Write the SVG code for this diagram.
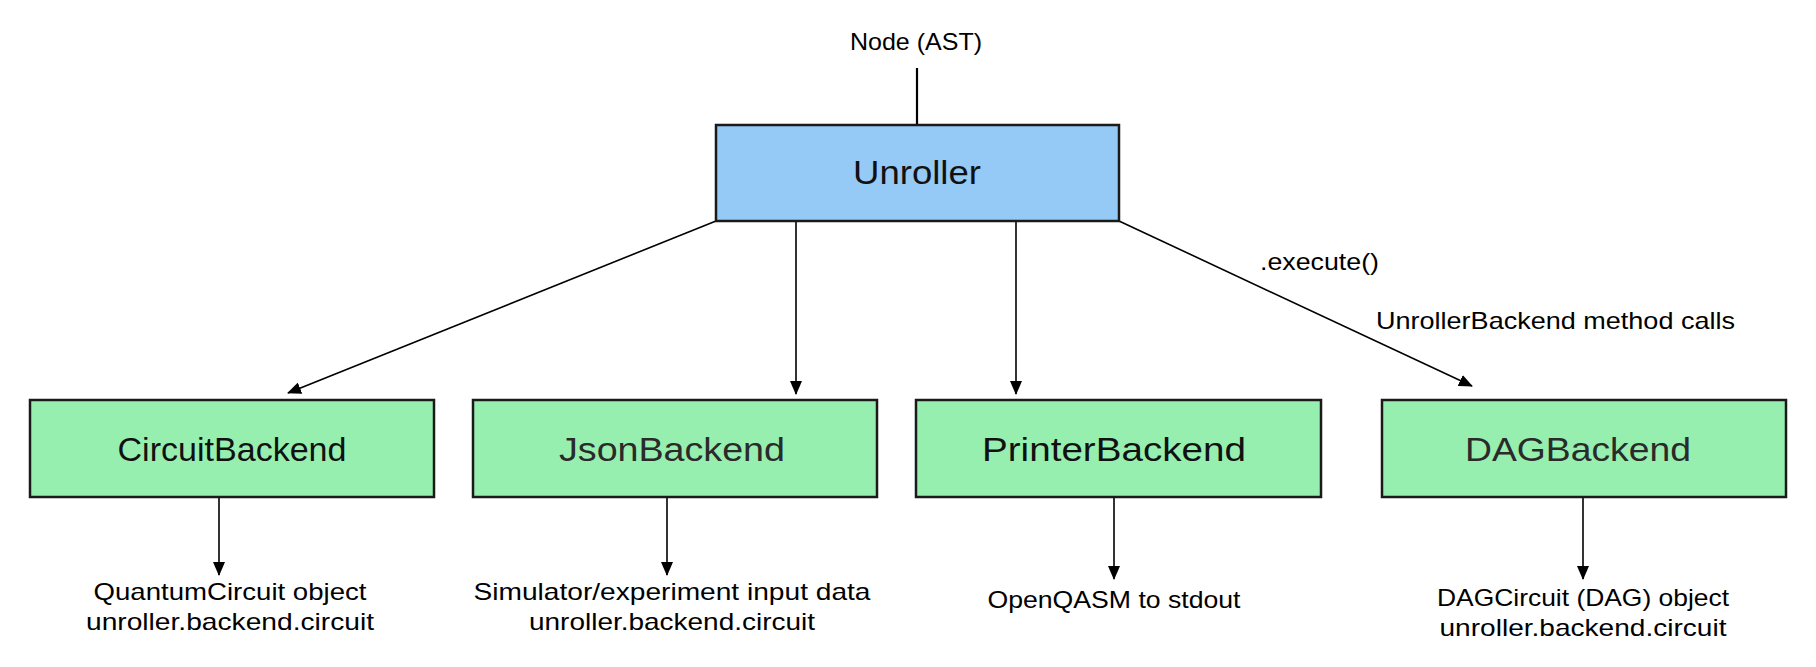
<svg xmlns="http://www.w3.org/2000/svg" width="1816" height="667" viewBox="0 0 1816 667">
<defs>
<style>
.box{stroke:#1a1a1a;stroke-width:2.5}
.blue{fill:#95C9F6}
.green{fill:#97EFAF}
.big{font-family:"Liberation Sans",Arial,sans-serif;font-size:34px;fill:#111;text-anchor:middle}
.light{fill:#2a2a2a}
.lbl{font-family:"Liberation Sans",Arial,sans-serif;font-size:24px;fill:#000;text-anchor:middle}
.lbls{font-family:"Liberation Sans",Arial,sans-serif;font-size:24px;fill:#000}
.con{stroke:#000;stroke-width:1.6;fill:none}
</style>
<marker id="ah" markerUnits="userSpaceOnUse" markerWidth="14" markerHeight="12" refX="13" refY="6" orient="auto">
<path d="M0,0 L14,6 L0,12 Z" fill="#000"/>
</marker>
</defs>
<rect width="1816" height="667" fill="#fff"/>
<g id="connectors">
<line class="con" x1="917" y1="68" x2="917" y2="125" style="stroke-width:2.2"/>
<line class="con" x1="716" y1="221" x2="288" y2="393" marker-end="url(#ah)"/>
<line class="con" x1="796" y1="222" x2="796" y2="394" marker-end="url(#ah)"/>
<line class="con" x1="1016" y1="222" x2="1016" y2="394" marker-end="url(#ah)"/>
<line class="con" x1="1119" y1="221" x2="1472" y2="386" marker-end="url(#ah)"/>
<line class="con" x1="219" y1="498" x2="219" y2="575" marker-end="url(#ah)"/>
<line class="con" x1="667" y1="498" x2="667" y2="575" marker-end="url(#ah)"/>
<line class="con" x1="1114" y1="498" x2="1114" y2="579" marker-end="url(#ah)"/>
<line class="con" x1="1583" y1="498" x2="1583" y2="579" marker-end="url(#ah)"/>
</g>
<g id="edge-labels">
<text class="lbls" x="1260" y="270" textLength="119" lengthAdjust="spacingAndGlyphs">.execute()</text>
<text class="lbls" x="1376" y="329" textLength="359" lengthAdjust="spacingAndGlyphs">UnrollerBackend method calls</text>
</g>
<g id="node-ast">
<text class="lbl" x="916" y="50" textLength="132" lengthAdjust="spacingAndGlyphs">Node (AST)</text>
</g>
<g id="unroller">
<rect class="box blue" x="716" y="125" width="403" height="96"/>
<text class="big" x="917" y="184" font-size="35" textLength="128" lengthAdjust="spacingAndGlyphs">Unroller</text>
</g>
<g id="circuit-backend">
<rect class="box green" x="30" y="400" width="404" height="97"/>
<text class="big" x="232" y="461" textLength="229" lengthAdjust="spacingAndGlyphs">CircuitBackend</text>
</g>
<g id="json-backend">
<rect class="box green" x="473" y="400" width="404" height="97"/>
<text class="big light" x="672" y="461" textLength="226" lengthAdjust="spacingAndGlyphs">JsonBackend</text>
</g>
<g id="printer-backend">
<rect class="box green" x="916" y="400" width="405" height="97"/>
<text class="big" x="1114" y="461" textLength="264" lengthAdjust="spacingAndGlyphs">PrinterBackend</text>
</g>
<g id="dag-backend">
<rect class="box green" x="1382" y="400" width="404" height="97"/>
<text class="big light" x="1578" y="461" textLength="226" lengthAdjust="spacingAndGlyphs">DAGBackend</text>
</g>
<g id="out-circuit">
<text class="lbl" x="230" y="600" textLength="273" lengthAdjust="spacingAndGlyphs">QuantumCircuit object</text>
<text class="lbl" x="230" y="630" textLength="288" lengthAdjust="spacingAndGlyphs">unroller.backend.circuit</text>
</g>
<g id="out-json">
<text class="lbl" x="672" y="600" textLength="397" lengthAdjust="spacingAndGlyphs">Simulator/experiment input data</text>
<text class="lbl" x="672" y="630" textLength="286" lengthAdjust="spacingAndGlyphs">unroller.backend.circuit</text>
</g>
<g id="out-printer">
<text class="lbl" x="1114" y="608" textLength="253" lengthAdjust="spacingAndGlyphs">OpenQASM to stdout</text>
</g>
<g id="out-dag">
<text class="lbl" x="1583" y="606" textLength="292" lengthAdjust="spacingAndGlyphs">DAGCircuit (DAG) object</text>
<text class="lbl" x="1583" y="636" textLength="287" lengthAdjust="spacingAndGlyphs">unroller.backend.circuit</text>
</g>
</svg>
